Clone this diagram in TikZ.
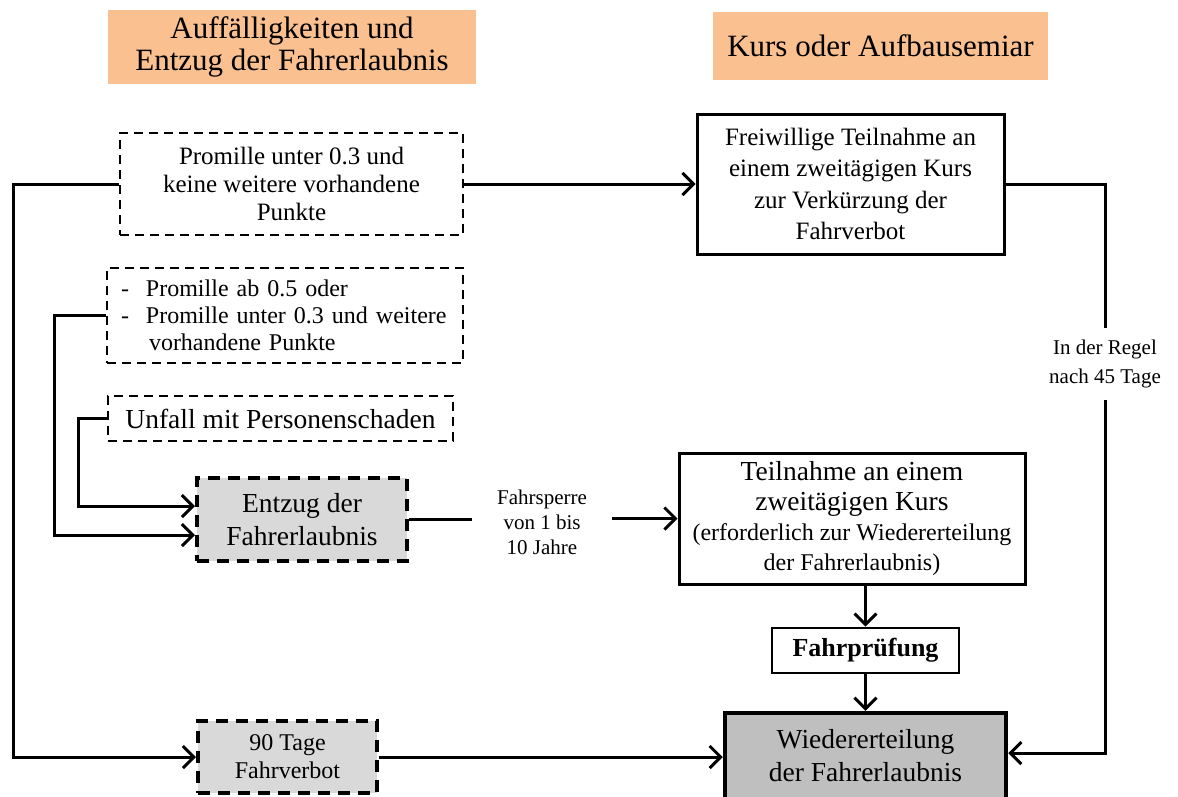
\documentclass[tikz,border=0pt]{standalone}
\usepackage{fontspec}
\setmainfont{Liberation Serif}
\usetikzlibrary{arrows.meta}
\newcommand\myfs[2]{\fontsize{#1}{#2}\selectfont}
\definecolor{hdrorange}{HTML}{FAC090}
\definecolor{lgray}{HTML}{D9D9D9}
\definecolor{mgray}{HTML}{BFBFBF}
\tikzset{
  box/.style={draw=black, inner sep=0pt, align=center, text=black},
  dbox/.style={box, line width=2.4pt, dash pattern=on 9pt off 6pt},
  dboxthick/.style={box, line width=4pt, dash pattern=on 12pt off 8pt, fill=lgray},
  sbox/.style={box, line width=3pt},
  hdr/.style={fill=hdrorange, inner sep=0pt, align=center},
  conn/.style={line width=3pt, line cap=butt, line join=miter},
  arr/.style={conn, -{Straight Barb[length=11pt,width=22pt]}},
  lbl/.style={inner sep=0pt, align=center}
}
\begin{document}
\begin{tikzpicture}[x=1pt,y=-1pt]
\useasboundingbox (0,0) rectangle (1178,796);
\clip (0,0) rectangle (1178,796);
\fill[white] (0,0) rectangle (1178,796);

% headers
\node[hdr, minimum width=368pt, minimum height=74pt, font=\myfs{31}{32}] (h1) at (292,47)
  {Auffälligkeiten und\\Entzug der Fahrerlaubnis};
\node[hdr, minimum width=335pt, minimum height=68pt, font=\myfs{31}{32}] (h2) at (880.5,46)
  {Kurs oder Aufbausemiar};

% boxes
\node[dbox, minimum width=343pt, minimum height=102pt, font=\myfs{25}{28}] (A) at (291.5,184)
  {Promille unter 0.3 und\\keine weitere vorhandene\\Punkte};
\node[sbox, minimum width=307pt, minimum height=140pt, font=\myfs{25}{31.5}] (B) at (850.5,184)
  {Freiwillige Teilnahme an\\einem zweitägigen Kurs\\zur Verkürzung der\\Fahrverbot};
\node[dbox, inner xsep=14pt, text width=328pt, align=left, minimum height=95pt, font=\myfs{24}{27}] (C) at (285,315.5)
  {\makebox[25pt][l]{-}Promille ab 0.5 oder\\
   \makebox[25pt][l]{-}Promille unter 0.3 und weitere\\
   \hspace*{28pt}vorhandene Punkte};
\node[dbox, minimum width=345pt, minimum height=45pt, font=\myfs{27.5}{30}] (D) at (280.5,418.5)
  {Unfall mit Personenschaden};
\node[dboxthick, minimum width=210pt, minimum height=83pt, font=\myfs{27.5}{33}] (E) at (302,519.5)
  {Entzug der\\Fahrerlaubnis};
\node[dboxthick, minimum width=179pt, minimum height=72pt, font=\myfs{24}{28}] (F) at (287.5,757)
  {90 Tage\\Fahrverbot};
\node[sbox, minimum width=346pt, minimum height=131pt, font=\myfs{27.5}{30}] (G) at (852,518.5)
  {Teilnahme an einem\\zweitägigen Kurs\\\myfs{24}{30}(erforderlich zur Wiedererteilung\\\myfs{24}{30}der Fahrerlaubnis)};
\node[box, line width=2.6pt, minimum width=187pt, minimum height=45pt, font=\myfs{26}{30}\bfseries] (H) at (865.5,650.5)
  {Fahrprüfung};
\node[box, line width=4.5pt, fill=mgray, minimum width=281pt, minimum height=86pt, font=\myfs{27.5}{33}] (W) at (865.5,756)
  {Wiedererteilung\\der Fahrerlaubnis};

% labels
\node[lbl, minimum width=140pt, minimum height=78pt, font=\myfs{21}{25}] (fs) at (542,522)
  {Fahrsperre\\von 1 bis\\10 Jahre};
\node[lbl, minimum height=72pt, font=\myfs{21}{29}] (rg) at (1105,364)
  {In der Regel\\nach 45 Tage};

% coordinates
\coordinate (cL) at (13,184);
\coordinate (cC) at (54,315.5);
\coordinate (cD) at (78,418.5);
\coordinate (cR) at (1105,184);

% connectors
\draw[arr] (A.west) -- (cL) |- (F.west);
\draw[arr] (C.west) -- (cC) |- ([yshift=-15.5pt]E.west);
\draw[arr] (D.west) -- (cD) |- ([yshift=13.5pt]E.west);
\draw[arr] (A.east) -- (B.west);
\draw[conn] (B.east) -- (cR) -- (rg.north);
\draw[arr] (rg.south) |- ([yshift=3pt]W.east);
\draw[conn] (E.east) -- (E.east -| fs.west);
\draw[arr] (fs.east |- G.west) -- (G.west);
\draw[arr] (G.south -| H.north) -- (H.north);
\draw[arr] (H.south) -- (W.north);
\draw[arr] (F.east) -- (F.east -| W.west);
\end{tikzpicture}
\end{document}
